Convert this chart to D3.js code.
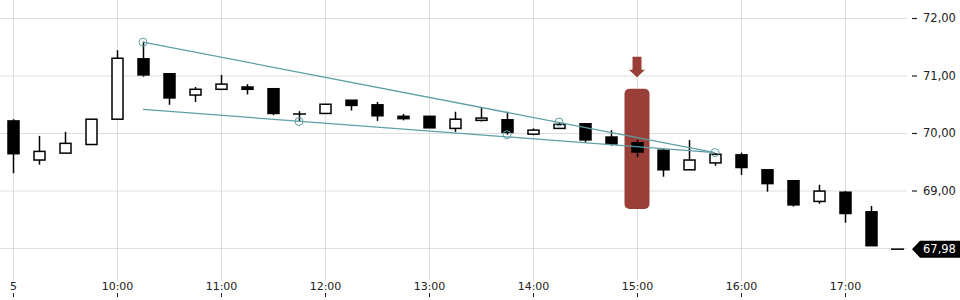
<!DOCTYPE html>
<html>
<head>
<meta charset="utf-8">
<script src="https://cdn.jsdelivr.net/npm/d3@7"></script>
<style>
  body { margin: 0; background: #fff; }
  svg { display: block; font-family: "DejaVu Sans", sans-serif; }
</style>
</head>
<body>
<svg width="960" height="300"></svg>
<script>
const times = [
  "09:00", "09:15", "09:30", "09:45", "10:00", "10:15", "10:30", "10:45",
  "11:00", "11:15", "11:30", "11:45", "12:00", "12:15", "12:30", "12:45",
  "13:00", "13:15", "13:30", "13:45", "14:00", "14:15", "14:30", "14:45",
  "15:00", "15:15", "15:30", "15:45", "16:00", "16:15", "16:30", "16:45",
  "17:00", "17:15", "17:30"
]
const opens = [
  70.21, 69.53, 69.65, 69.80, 70.24, 71.29, 71.03, 70.66,
  70.76, 70.80, 70.77, 70.33, 70.34, 70.57, 70.49, 70.29,
  70.29, 70.08, 70.22, 70.23, 69.98, 70.08, 70.16, 69.93,
  69.83, 69.70, 69.36, 69.48, 69.62, 69.36, 69.17, 68.81,
  68.97, 68.63, 67.98
]
const highs = [
  70.24, 69.95, 70.02, 70.24, 71.44, 71.59, 71.03, 70.80,
  71.01, 70.85, 70.77, 70.38, 70.50, 70.57, 70.54, 70.33,
  70.29, 70.37, 70.45, 70.37, 70.08, 70.19, 70.16, 70.05,
  69.88, 69.72, 69.88, 69.65, 69.66, 69.37, 69.17, 69.10,
  68.99, 68.73, 67.98
]
const lows = [
  69.30, 69.45, 69.65, 69.80, 70.24, 70.98, 70.49, 70.54,
  70.76, 70.67, 70.31, 70.20, 70.34, 70.39, 70.21, 70.22,
  70.09, 70.02, 70.20, 69.97, 69.96, 70.08, 69.83, 69.78,
  69.58, 69.24, 69.36, 69.43, 69.27, 68.98, 68.72, 68.77,
  68.44, 68.04, 67.98
]
const closes = [
  69.64, 69.68, 69.82, 70.24, 71.30, 71.01, 70.61, 70.76,
  70.85, 70.76, 70.34, 70.33, 70.50, 70.48, 70.30, 70.25,
  70.09, 70.24, 70.26, 70.01, 70.05, 70.15, 69.88, 69.81,
  69.67, 69.36, 69.53, 69.63, 69.40, 69.12, 68.75, 68.99,
  68.60, 68.04, 67.98
]

const hourTicks = ["09:00", "10:00", "11:00", "12:00", "13:00", "14:00", "15:00", "16:00", "17:00"]
const hourLabels = ["5", "10:00", "11:00", "12:00", "13:00", "14:00", "15:00", "16:00", "17:00"]
const priceTicks = [69, 70, 71, 72]
const priceGrid = [68, 69, 70, 71, 72]
const lastPrice = 67.98

// trend lines: [time, price] pairs
const upperTrend = [["10:15", 71.58], ["15:45", 69.66]]
const lowerTrend = [["10:15", 70.41], ["15:45", 69.66]]
const touchPoints = [["10:15", 71.58], ["11:45", 70.20], ["13:45", 69.97], ["14:15", 70.19], ["15:45", 69.66]]

const highlightTime = "15:00"
const highlightRange = [68.68, 70.77]

const parseTime = (s) => {
  const [h, m] = s.split(":").map(Number)
  return new Date(2024, 0, 5, h, m)
}

const candles = times.map((t, i) => ({
  time: parseTime(t), open: opens[i], high: highs[i], low: lows[i], close: closes[i]
}))

const svg = d3.select("svg")
const x = d3.scaleTime()
  .domain([parseTime("09:00"), parseTime("17:45")])
  .range([13, 923])
const y = d3.scaleLinear()
  .domain([68, 72])
  .range([248, 18])

const locale = d3.formatLocale({ decimal: ",", thousands: ".", grouping: [3], currency: ["", " €"] })
const fmt = locale.format(".2f")

const gridColor = "#dedede"
const teal = "#5d9fa6"
const red = "#9a3e38"
const bodyW = 12

// grid
svg.append("g")
  .selectAll("line")
  .data(priceGrid)
  .join("line")
  .attr("x1", 0).attr("x2", 907)
  .attr("y1", (d) => y(d) + 0.5).attr("y2", (d) => y(d) + 0.5)
  .attr("stroke", gridColor)

svg.append("g")
  .selectAll("line")
  .data(hourTicks.map(parseTime))
  .join("line")
  .attr("x1", (d) => Math.round(x(d)) + 0.5).attr("x2", (d) => Math.round(x(d)) + 0.5)
  .attr("y1", 0).attr("y2", 281)
  .attr("stroke", gridColor)

// highlight box and arrow
const hx = x(parseTime(highlightTime))
svg.append("rect")
  .attr("x", hx - 12.5).attr("width", 25)
  .attr("y", y(highlightRange[1])).attr("height", y(highlightRange[0]) - y(highlightRange[1]))
  .attr("rx", 5).attr("ry", 5)
  .attr("fill", red)

const arrowTip = y(highlightRange[1]) - 12
svg.append("path")
  .attr("d", `M${hx - 4.5},${arrowTip - 20} h9 v13 h3.5 l-8,7.5 l-8,-7.5 h3.5 z`)
  .attr("fill", red)

// candles
const candleG = svg.append("g")
  .selectAll("g")
  .data(candles)
  .join("g")
  .attr("transform", (d) => `translate(${Math.round(x(d.time))},0)`)

candleG.append("line")
  .attr("x1", 0.5).attr("x2", 0.5)
  .attr("y1", (d) => y(d.high)).attr("y2", (d) => y(d.low))
  .attr("stroke", "#000")
  .attr("stroke-width", 1.5)

candleG.filter((d) => d.open != d.close)
  .append("rect")
  .attr("x", -bodyW / 2 + 1)
  .attr("width", bodyW - 1)
  .attr("y", (d) => y(Math.max(d.open, d.close)))
  .attr("height", (d) => Math.max(1, Math.abs(y(d.open) - y(d.close))))
  .attr("fill", (d) => d.close > d.open ? "#fff" : "#000")
  .attr("stroke", "#000")
  .attr("stroke-width", 1.5)

candleG.filter((d) => d.open == d.close)
  .append("line")
  .attr("x1", -bodyW / 2).attr("x2", bodyW / 2 + 1)
  .attr("y1", (d) => y(d.open)).attr("y2", (d) => y(d.open))
  .attr("stroke", "#000")
  .attr("stroke-width", 1.5)

// trend lines
const trendLine = d3.line()
  .x((d) => x(parseTime(d[0])))
  .y((d) => y(d[1]))

svg.append("g")
  .selectAll("path")
  .data([upperTrend, lowerTrend])
  .join("path")
  .attr("d", trendLine)
  .attr("fill", "none")
  .attr("stroke", teal)
  .attr("stroke-width", 1.3)

svg.append("g")
  .selectAll("circle")
  .data(touchPoints)
  .join("circle")
  .attr("cx", (d) => x(parseTime(d[0])))
  .attr("cy", (d) => y(d[1]))
  .attr("r", 4)
  .attr("fill", "none")
  .attr("stroke", teal)
  .attr("stroke-width", 1)

// y axis
const yAxis = svg.append("g")
  .attr("transform", "translate(912,0)")
  .call(d3.axisRight(y).tickValues(priceTicks).tickSize(5).tickPadding(6).tickFormat(fmt))
yAxis.select(".domain").remove()
yAxis.selectAll("line").attr("stroke", "#222").attr("stroke-width", 1.2)
yAxis.selectAll("text").attr("fill", "#222").attr("font-size", 11.5).attr("font-family", "DejaVu Sans")

// x axis
const xAxis = svg.append("g")
  .attr("transform", "translate(0,297)")
  .call(d3.axisTop(x).tickValues(hourTicks.map(parseTime)).tickSize(4).tickPadding(3)
    .tickFormat((d, i) => hourLabels[i]))
xAxis.select(".domain").remove()
xAxis.selectAll("line").attr("stroke", "#222")
xAxis.selectAll("text").attr("fill", "#222").attr("font-size", 11).attr("font-family", "DejaVu Sans")

// last price tag
const ly = y(lastPrice)
svg.append("path")
  .attr("d", `M912,${ly} L920,${ly - 8.5} H960 V${ly + 8.5} H920 Z`)
  .attr("fill", "#000")
svg.append("text")
  .attr("x", 923).attr("y", ly + 4)
  .attr("fill", "#fff")
  .attr("font-size", 11.5)
  .text(fmt(lastPrice))
</script>
</body>
</html>
